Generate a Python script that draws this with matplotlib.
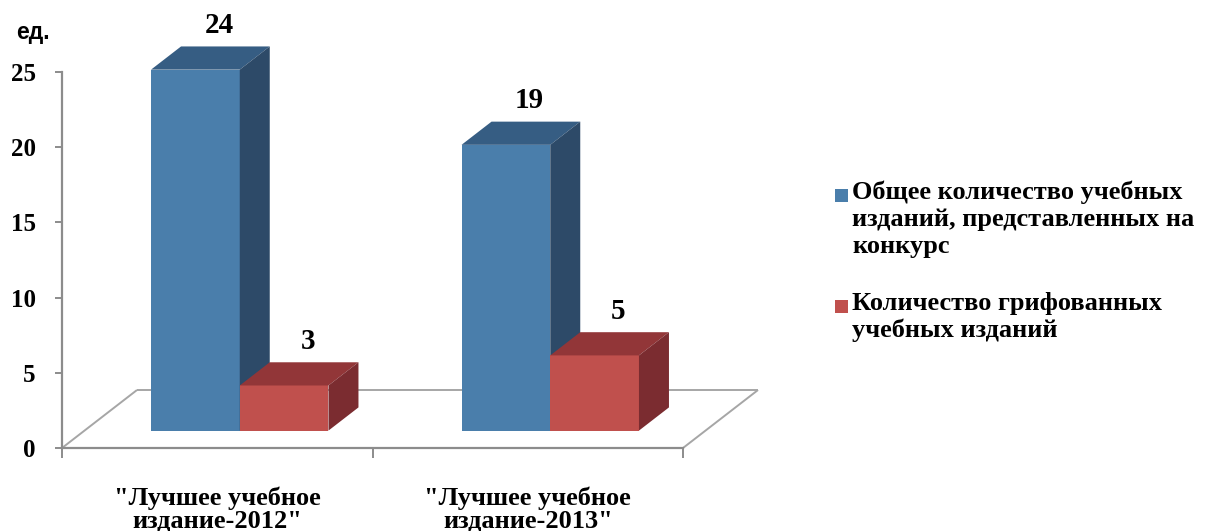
import matplotlib
matplotlib.use("Agg")
import matplotlib.pyplot as plt
from matplotlib.patches import Polygon, Rectangle

# --- data ---
categories = ["\"Лучшее учебное\nиздание-2012\"", "\"Лучшее учебное\nиздание-2013\""]
series_names = ["Общее количество учебных\nизданий, представленных на\nконкурс",
                "Количество грифованных\nучебных изданий"]
total_editions = [24, 19]
stamped_editions = [3, 5]
y_ticks = [0, 5, 10, 15, 20, 25]
unit_label = "ед."

series_values = [total_editions, stamped_editions]
front_colors = ["#4A7EAB", "#C0504D"]
top_colors = ["#365D83", "#923638"]
side_colors = ["#2D4A68", "#7B2C30"]

W, H = 1205, 531
fig = plt.figure(figsize=(W / 100, H / 100), dpi=100)
fig.patch.set_facecolor("white")

ax_left, ax_bottom, ax_w, ax_h = 62, 83, 621, 376
ax = fig.add_axes([ax_left / W, ax_bottom / H, ax_w / W, ax_h / H])
ax.set_xlim(-0.5, len(categories) - 0.5)
ax.set_ylim(0, 25)
ax.set_facecolor("none")

# oblique depth vector in data units
DX = 75 / (ax_w / len(categories))
DY = 58 / (ax_h / 25)


def proj(x, y, z):
    return (x + z * DX, y + z * DY)


serif = "Liberation Serif"
grid_col = "#a6a6a6"
axis_col = "#8c8c8c"

# floor outline
x0, x1 = -0.5, len(categories) - 0.5
for a, b in [((x0, 0, 1), (x1, 0, 1)), ((x0, 0, 0), (x0, 0, 1)), ((x1, 0, 0), (x1, 0, 1))]:
    pa, pb = proj(*a), proj(*b)
    ax.plot([pa[0], pb[0]], [pa[1], pb[1]], color=grid_col, lw=1.4,
            clip_on=False, zorder=1, solid_capstyle="butt")

# 3D bars
n = len(series_values)
bw = 1 / (n + 1.5)
z0, z1 = 0.3, 0.7
for ci in range(len(categories)):
    for si in range(n):
        v = series_values[si][ci]
        left = ci - n * bw / 2 + si * bw
        fx, fy = proj(left, 0, z0)
        ax.bar(fx, v, width=bw, bottom=fy, align="edge", color=front_colors[si],
               edgecolor="none", zorder=3, clip_on=False,
               label=series_names[si] if ci == 0 else None)
        top = [proj(left, v, z0), proj(left + bw, v, z0),
               proj(left + bw, v, z1), proj(left, v, z1)]
        side = [proj(left + bw, 0, z0), proj(left + bw, v, z0),
                proj(left + bw, v, z1), proj(left + bw, 0, z1)]
        ax.add_patch(Polygon(top, closed=True, facecolor=top_colors[si],
                             edgecolor="none", zorder=3, clip_on=False))
        ax.add_patch(Polygon(side, closed=True, facecolor=side_colors[si],
                             edgecolor="none", zorder=3, clip_on=False))
        lx, ly = proj(left + bw / 2, v, z1)
        ax.annotate(str(v), (lx, ly), xytext=(-4.5, 15), textcoords="offset points",
                    ha="center", va="center", fontsize=21, fontweight="bold",
                    family=serif, color="black", zorder=5, annotation_clip=False)

# axes styling
for s in ["top", "right"]:
    ax.spines[s].set_visible(False)
for s in ["left", "bottom"]:
    ax.spines[s].set_color(axis_col)
    ax.spines[s].set_linewidth(1.6)
ax.set_yticks(y_ticks)
ax.set_yticklabels([str(t) for t in y_ticks], fontsize=18, fontweight="bold", family=serif)
ax.tick_params(axis="y", direction="out", length=5, width=1.4, color=axis_col, pad=14)
ax.set_xticks([x0 + i for i in range(len(categories) + 1)])
ax.set_xticklabels([])
ax.tick_params(axis="x", direction="out", length=7, width=1.4, color=axis_col)

for ci, cat in enumerate(categories):
    ax.text(ci, -0.163, cat, transform=ax.get_xaxis_transform(), ha="center",
            va="center", fontsize=19, fontweight="bold", family=serif,
            linespacing=1.0)

fig.text(16 / W, 1 - 32 / H, unit_label, ha="left", va="center", fontsize=16.5,
         fontweight="bold", family="Liberation Sans")

# legend
leg_x = 835
leg_rows = [195, 306]
for si, name in enumerate(series_names):
    y = leg_rows[si]
    fig.patches.append(Rectangle((leg_x / W, 1 - (y + 7) / H), 13 / W, 13 / H,
                                 transform=fig.transFigure, facecolor=front_colors[si],
                                 edgecolor="none"))
    fig.text((leg_x + 17) / W, 1 - (y - 14) / H, name, ha="left", va="top",
             fontsize=19, fontweight="bold", family=serif, linespacing=1.2)

fig.savefig("out.png", dpi=100, facecolor="white")
